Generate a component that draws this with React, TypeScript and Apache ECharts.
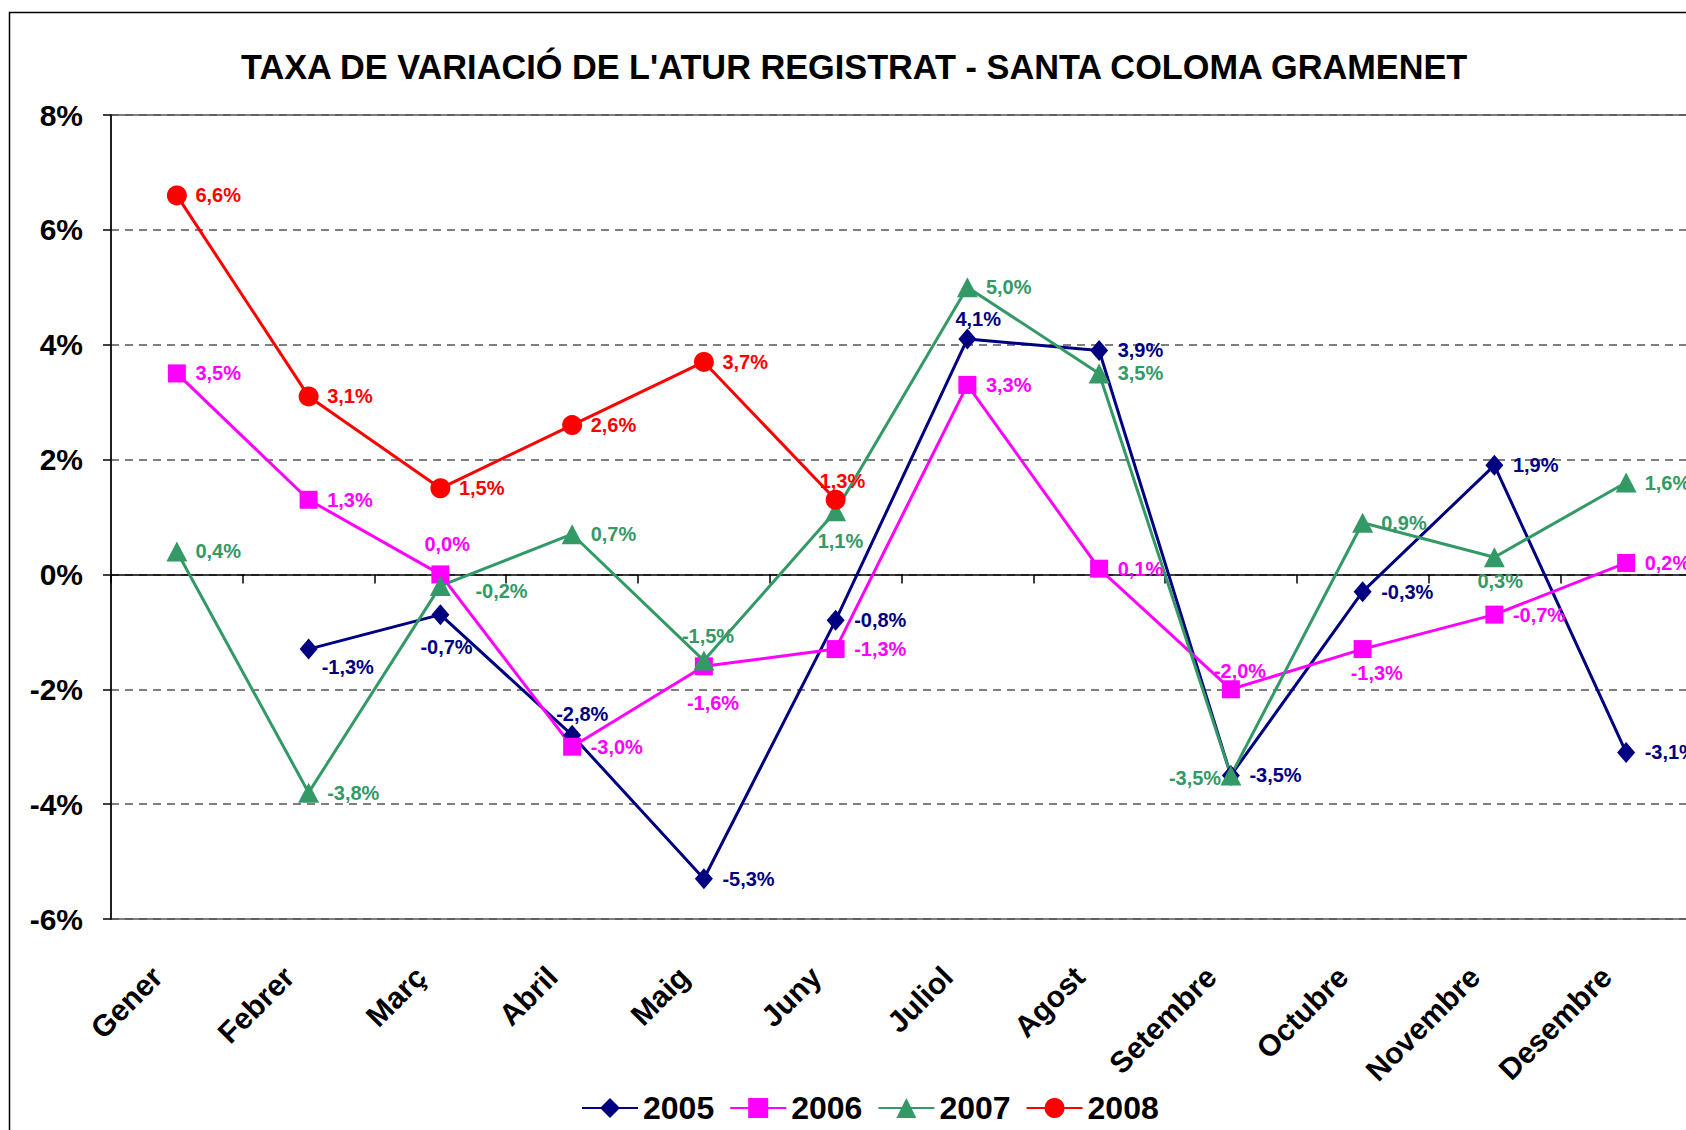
import React, { useEffect, useRef } from 'react';
import * as echarts from 'echarts';

const months = ['Gener', 'Febrer', 'Març', 'Abril', 'Maig', 'Juny', 'Juliol', 'Agost', 'Setembre', 'Octubre', 'Novembre', 'Desembre'];
const years = ['2005', '2006', '2007', '2008'];
const s2005 = [null, -1.3, -0.7, -2.8, -5.3, -0.8, 4.1, 3.9, -3.5, -0.3, 1.9, -3.1];
const s2006 = [3.5, 1.3, 0.0, -3.0, -1.6, -1.3, 3.3, 0.1, -2.0, -1.3, -0.7, 0.2];
const s2007 = [0.4, -3.8, -0.2, 0.7, -1.5, 1.1, 5.0, 3.5, -3.5, 0.9, 0.3, 1.6];
const s2008 = [6.6, 3.1, 1.5, 2.6, 3.7, 1.3, null, null, null, null, null, null];
const yMin = -6;
const yMax = 8;
const yStep = 2;

// label placement (left edge offset, vertical offset) relative to the marker; null = to the right
const lab2005: (number[] | null)[] = [null, [13, 18], [-20, 32], [-16, -21], null, null, [-12, -20], null, null, null, null, null];
const lab2006: (number[] | null)[] = [null, null, [-16, -30], null, [-17, 37], null, null, null, [-17, -18], [-12, 24], null, null];
const lab2007: (number[] | null)[] = [null, null, [35, 5], null, [-22, -25], [-18, 30], null, null, [-62, 3], null, [-17, 24], null];
const lab2008: (number[] | null)[] = [null, null, null, null, null, [-16, -19], null, null, null, null, null, null];

const FONT = "'Liberation Sans', Arial, sans-serif";

const fmt = (v: number) => v.toFixed(1).replace('.', ',') + '%';

function makeSeries(name: string, values: (number | null)[], color: string, symbol: string, size: number | number[], labs: (number[] | null)[]) {
  return {
    name,
    type: 'line',
    symbol,
    symbolSize: size,
    showAllSymbol: true,
    connectNulls: false,
    lineStyle: { color, width: 3 },
    itemStyle: { color },
    label: {
      show: true,
      color,
      fontSize: 20,
      fontWeight: 'bold',
      fontFamily: FONT,
      formatter: (p: any) => fmt(Number(p.value)),
    },
    data: values.map((v, i) => {
      if (v === null) return '-';
      const off = labs[i] || [18.5, 0];
      return {
        value: v,
        label: { position: 'inside', align: 'left', verticalAlign: 'middle', offset: off },
      };
    }),
  };
}

export default function App() {
  const ref = useRef<HTMLDivElement>(null);
  useEffect(() => {
    const chart = echarts.init(ref.current!, null, { renderer: 'svg' });
    const option: any = {
      animation: false,
      backgroundColor: '#ffffff',
      textStyle: { fontFamily: FONT },
      title: {
        text: "TAXA DE VARIACIÓ DE L'ATUR REGISTRAT - SANTA COLOMA GRAMENET",
        left: 236,
        top: 45,
        textStyle: { fontSize: 34.3, fontWeight: 'bold', color: '#000', fontFamily: FONT },
      },
      graphic: [
        {
          type: 'rect',
          z: -10,
          silent: true,
          shape: { x: 9.5, y: 12.5, width: 1800, height: 1300 },
          style: { fill: 'none', stroke: '#000', lineWidth: 1.5 },
        },
      ],
      legend: {
        data: years,
        left: 576,
        top: 1087,
        itemWidth: 56,
        itemHeight: 25,
        itemGap: 15,
        textStyle: { fontSize: 32, fontWeight: 'bold', color: '#000', fontFamily: FONT },
      },
      grid: {
        left: 111,
        top: 115,
        width: 1581,
        bottom: 211,
        outerBoundsMode: 'none',
        containLabel: false,
        show: true,
        borderColor: '#808080',
        borderWidth: 2,
      },
      xAxis: [
        {
          type: 'category',
          data: months,
          boundaryGap: true,
          position: 'bottom',
          axisLine: { show: true, onZero: true, lineStyle: { color: '#000', width: 1.5 } },
          axisTick: { show: true, length: 9, alignWithLabel: false, lineStyle: { color: '#000', width: 1.5 } },
          axisLabel: { show: false },
          splitLine: { show: false },
        },
        {
          type: 'category',
          data: months,
          boundaryGap: true,
          position: 'bottom',
          axisLine: { show: false, onZero: false },
          axisTick: { show: false },
          splitLine: { show: false },
          axisLabel: {
            show: true,
            interval: 0,
            rotate: 45,
            margin: 33,
            padding: [0, 28, 0, 0],
            fontSize: 30,
            fontWeight: 'bold',
            color: '#000',
            fontFamily: FONT,
          },
        },
      ],
      yAxis: {
        type: 'value',
        min: yMin,
        max: yMax,
        interval: yStep,
        axisLine: { show: true, lineStyle: { color: '#000', width: 1.5 } },
        axisTick: { show: true, length: 8, lineStyle: { color: '#000', width: 1.5 } },
        axisLabel: {
          formatter: '{value}%',
          fontSize: 30,
          fontWeight: 'bold',
          color: '#000',
          margin: 28,
          fontFamily: FONT,
        },
        splitLine: { show: true, lineStyle: { color: '#555', width: 1.5, type: [8, 6] } },
      },
      series: [
        makeSeries('2005', s2005, '#000080', 'diamond', [18, 21], lab2005),
        makeSeries('2006', s2006, '#FF00FF', 'rect', 18, lab2006),
        makeSeries('2007', s2007, '#339966', 'triangle', [21, 20], lab2007),
        makeSeries('2008', s2008, '#FF0000', 'circle', 20, lab2008),
      ],
    };
    chart.setOption(option);
    return () => chart.dispose();
  }, []);
  return (
    <div
      ref={ref}
      style={{ position: 'absolute', left: 0, top: 0, width: 1686, height: 1130, background: '#fff' }}
    />
  );
}
